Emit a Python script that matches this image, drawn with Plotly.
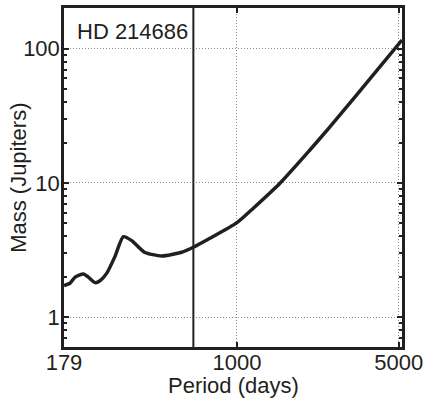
import math
import plotly.graph_objects as go

# Data
period_days = [179, 190, 200, 217, 228, 244, 256, 274, 297, 323, 351, 398, 473,
               577, 648, 764, 1000, 1176, 1533, 2065, 2488, 3241, 5157]
mass_jupiters = [1.72, 1.79, 1.99, 2.10, 1.99, 1.81, 1.87, 2.13, 2.83, 3.98, 3.72,
                 3.05, 2.86, 3.05, 3.32, 3.87, 5.06, 6.48, 9.95, 17.6, 25.5, 43.9, 116]
marker_period = 648
star_name = "HD 214686"
x_ticks = [179, 1000, 5000]
x_tick_labels = ["179", "1000", "5000"]
y_ticks = [1, 10, 100]
y_tick_labels = ["1", "10", "100"]
y_minor = [m * 10 ** e for e in (-1, 0, 1, 2) for m in range(2, 10)]

ink = "#231f20"
family = "Liberation Sans, Arial, sans-serif"
font = dict(family=family, size=22, color=ink)

fig = go.Figure()
fig.add_trace(go.Scatter(
    x=period_days, y=mass_jupiters, mode="lines",
    line=dict(color=ink, width=3.5, shape="spline", smoothing=0.6),
    showlegend=False, hoverinfo="skip"))

fig.add_shape(type="line", xref="x", yref="paper", x0=marker_period, x1=marker_period,
              y0=0, y1=1, line=dict(color=ink, width=2))

fig.add_annotation(text=star_name, xref="paper", yref="paper", x=0.033, y=0.93,
                   xanchor="left", yanchor="middle", showarrow=False, font=font)

# axis titles placed as annotations for exact positioning
fig.add_annotation(text="Mass (Jupiters)", xref="paper", yref="paper", x=-0.135, y=0.5,
                   xanchor="center", yanchor="middle", textangle=-90,
                   showarrow=False, font=font)
fig.add_annotation(text="Period (days)", xref="paper", yref="paper", x=0.5, y=-0.153,
                   xanchor="center", yanchor="bottom", borderpad=0,
                   showarrow=False, font=font)

axis_common = dict(
    showline=True, linecolor=ink, linewidth=2.5, mirror="ticks",
    ticks="inside", ticklen=5, tickwidth=1.5, tickcolor=ink,
    showgrid=True, gridcolor="#8c8c8c", gridwidth=1, griddash="1px,2px",
    zeroline=False, tickfont=font,
)

fig.update_xaxes(type="log", range=[math.log10(179), math.log10(5160)],
                 tickmode="array", tickvals=x_ticks, ticktext=x_tick_labels,
                 ticklabelstandoff=-6,
                 **axis_common)
fig.update_yaxes(type="log", range=[math.log10(0.6), math.log10(201)],
                 tickmode="array", tickvals=y_ticks, ticktext=y_tick_labels,
                 ticklabelstandoff=-3,
                 minor=dict(tickmode="array", tickvals=y_minor, ticks="inside",
                            ticklen=3, tickwidth=1.5, tickcolor=ink, showgrid=False),
                 **axis_common)

fig.update_layout(
    width=425, height=400,
    margin=dict(l=64, r=23, t=8, b=53, autoexpand=False),
    paper_bgcolor="white", plot_bgcolor="white",
    font=font,
)

fig.write_html("out.html", config={"displayModeBar": False},
               post_script="document.body.style.margin='0';document.body.style.padding='0';")
